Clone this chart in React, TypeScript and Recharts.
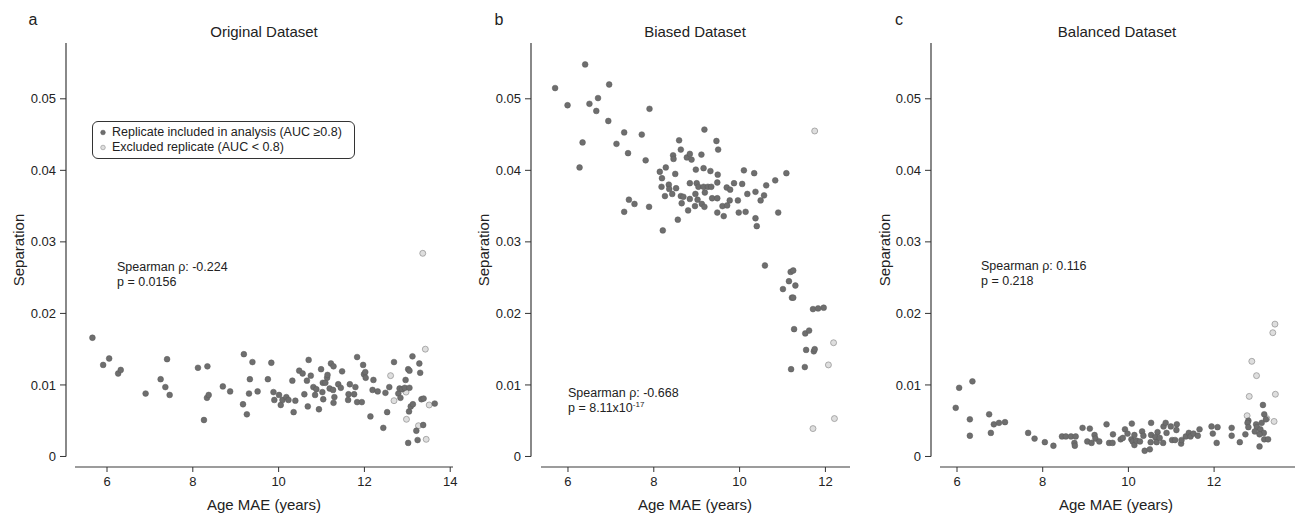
import React from "react";
import { ScatterChart, Scatter, XAxis, YAxis, ReferenceLine } from "recharts";

const FONT = '"Liberation Sans", Arial, sans-serif';
const INK = "#222";

// a — original dataset
const origInX = [5.66, 5.91, 6.05, 6.26, 6.32, 6.9, 7.25, 7.36, 7.4, 7.46, 8.12, 8.26, 8.34, 8.33, 8.37, 8.7, 8.87, 9.17, 9.19, 9.26, 9.31, 9.33, 9.39, 9.51, 9.75, 9.83, 9.88, 9.9, 10.01, 10.05, 10.09, 10.18, 10.23, 10.32, 10.35, 10.39, 10.48, 10.56, 10.6, 10.66, 10.68, 10.7, 10.75, 10.81, 10.85, 10.88, 10.94, 10.99, 11.02, 11.04, 11.03, 11.09, 11.13, 11.14, 11.19, 11.22, 11.27, 11.28, 11.3, 11.28, 11.39, 11.45, 11.48, 11.62, 11.63, 11.66, 11.76, 11.79, 11.83, 11.83, 11.94, 11.97, 11.99, 12.02, 12.03, 12.14, 12.21, 12.19, 12.31, 12.44, 12.49, 12.53, 12.58, 12.69, 12.79, 12.82, 12.84, 12.88, 12.94, 12.96, 13.02, 13.05, 13.05, 13.02, 13.04, 13.08, 13.13, 13.12, 13.21, 13.24, 13.28, 13.3, 13.33, 13.38, 13.37, 13.64];
const origInY = [0.0166, 0.0128, 0.0137, 0.0116, 0.0121, 0.0088, 0.0108, 0.0097, 0.0136, 0.0086, 0.0124, 0.0051, 0.0126, 0.0082, 0.0086, 0.0098, 0.0091, 0.0073, 0.0143, 0.0059, 0.0088, 0.0108, 0.0132, 0.0091, 0.0108, 0.0131, 0.009, 0.0079, 0.0086, 0.0072, 0.0079, 0.0083, 0.0079, 0.0106, 0.0062, 0.0078, 0.012, 0.0116, 0.0087, 0.0106, 0.007, 0.0135, 0.0113, 0.0097, 0.0086, 0.0094, 0.0066, 0.0122, 0.009, 0.008, 0.0103, 0.0103, 0.011, 0.0114, 0.0095, 0.013, 0.0093, 0.0126, 0.0083, 0.0075, 0.0101, 0.0096, 0.0119, 0.0079, 0.0087, 0.0101, 0.0087, 0.0097, 0.0139, 0.0076, 0.0076, 0.0128, 0.0115, 0.0118, 0.011, 0.0056, 0.0107, 0.0093, 0.0091, 0.004, 0.0089, 0.0062, 0.0097, 0.0132, 0.0088, 0.0095, 0.0082, 0.0094, 0.0096, 0.0107, 0.0122, 0.012, 0.0096, 0.0019, 0.0063, 0.007, 0.0073, 0.014, 0.0036, 0.0023, 0.013, 0.0117, 0.008, 0.0081, 0.0044, 0.0074];
const origOutX = [13.36, 13.42, 12.61, 12.69, 12.97, 13.51, 12.98, 13.26, 13.44];
const origOutY = [0.0284, 0.015, 0.0113, 0.0078, 0.009, 0.0072, 0.0052, 0.0043, 0.0024];

// b — biased dataset
const biasInX = [5.7, 5.99, 6.34, 6.27, 6.4, 6.5, 6.66, 6.7, 6.96, 6.94, 7.13, 7.31, 7.4, 7.31, 7.42, 7.55, 7.72, 7.81, 7.9, 7.89, 8.14, 8.19, 8.28, 8.18, 8.26, 8.35, 8.36, 8.45, 8.46, 8.5, 8.52, 8.43, 8.59, 8.63, 8.63, 8.65, 8.69, 8.56, 8.77, 8.84, 8.88, 8.84, 8.8, 8.84, 8.96, 8.98, 8.97, 9.0, 9.04, 9.02, 9.11, 9.12, 9.16, 9.18, 9.19, 9.18, 9.16, 9.26, 9.32, 9.36, 9.34, 9.46, 9.5, 9.49, 9.48, 9.48, 9.48, 9.63, 9.6, 9.7, 9.71, 9.78, 9.77, 9.87, 9.96, 9.98, 10.06, 10.1, 10.14, 10.18, 10.34, 10.37, 10.37, 10.4, 10.49, 10.57, 10.62, 10.83, 10.9, 11.09, 8.21, 10.59, 11.19, 11.25, 11.15, 11.3, 11.01, 11.22, 11.25, 11.71, 11.83, 11.96, 11.27, 11.53, 11.62, 11.55, 11.73, 11.75, 11.2, 11.52];
const biasInY = [0.0515, 0.0491, 0.0439, 0.0404, 0.0548, 0.0493, 0.0483, 0.0501, 0.052, 0.0469, 0.0437, 0.0453, 0.0424, 0.0342, 0.0359, 0.0353, 0.045, 0.0414, 0.0486, 0.0349, 0.0398, 0.0389, 0.0404, 0.0377, 0.0364, 0.038, 0.0374, 0.0421, 0.0416, 0.0395, 0.0375, 0.0367, 0.0442, 0.0429, 0.0364, 0.0354, 0.0363, 0.0331, 0.0418, 0.0423, 0.0415, 0.0382, 0.0344, 0.036, 0.035, 0.0401, 0.0367, 0.0382, 0.0377, 0.0359, 0.0422, 0.0353, 0.0403, 0.0457, 0.0369, 0.0349, 0.0377, 0.0377, 0.0399, 0.0361, 0.0377, 0.0441, 0.0429, 0.0394, 0.0383, 0.0361, 0.0341, 0.0336, 0.035, 0.0376, 0.0351, 0.0373, 0.0358, 0.0382, 0.0358, 0.0341, 0.0381, 0.04, 0.0342, 0.0367, 0.0396, 0.037, 0.0333, 0.0322, 0.0358, 0.0365, 0.0379, 0.0386, 0.0341, 0.0396, 0.0316, 0.0267, 0.0258, 0.026, 0.0245, 0.0239, 0.0234, 0.0222, 0.0222, 0.0206, 0.0207, 0.0208, 0.0178, 0.0172, 0.0176, 0.0149, 0.0147, 0.015, 0.0122, 0.0125];
const biasOutX = [11.75, 12.19, 12.07, 12.21, 11.71];
const biasOutY = [0.0455, 0.0159, 0.0128, 0.0053, 0.0039];

// c — balanced dataset
const balInX = [5.97, 6.05, 6.36, 6.3, 6.3, 6.75, 6.79, 6.86, 6.98, 7.12, 7.66, 7.81, 8.05, 8.25, 8.45, 8.54, 8.66, 8.77, 8.74, 8.75, 8.93, 9.04, 9.1, 9.14, 9.21, 9.23, 9.32, 9.49, 9.55, 9.63, 9.64, 9.82, 9.87, 9.92, 9.98, 10.08, 10.07, 10.1, 10.14, 10.14, 10.19, 10.27, 10.32, 10.35, 10.38, 10.5, 10.53, 10.53, 10.52, 10.63, 10.66, 10.68, 10.73, 10.81, 10.82, 10.87, 10.89, 10.99, 11.02, 11.12, 11.13, 11.09, 11.23, 11.24, 11.34, 11.41, 11.45, 11.52, 11.62, 11.66, 11.94, 11.97, 12.06, 12.08, 12.41, 12.41, 12.6, 12.73, 13.14, 13.17, 13.21, 12.8, 12.78, 12.98, 13.11, 12.8, 13.0, 12.95, 13.08, 13.16, 13.06, 13.17, 13.26, 13.06];
const balInY = [0.0068, 0.0096, 0.0105, 0.0052, 0.0029, 0.0059, 0.0033, 0.0045, 0.0047, 0.0048, 0.0033, 0.0025, 0.002, 0.0015, 0.0028, 0.0028, 0.0028, 0.0028, 0.0019, 0.0015, 0.004, 0.0021, 0.0039, 0.0019, 0.003, 0.0025, 0.0021, 0.0045, 0.0019, 0.0019, 0.0031, 0.0024, 0.0026, 0.0038, 0.0032, 0.0046, 0.0024, 0.0021, 0.003, 0.0016, 0.0022, 0.0021, 0.0035, 0.0029, 0.0008, 0.001, 0.003, 0.0047, 0.002, 0.0027, 0.002, 0.0034, 0.0026, 0.0019, 0.0042, 0.0047, 0.0033, 0.0042, 0.0023, 0.0037, 0.0045, 0.0023, 0.0018, 0.0023, 0.0028, 0.0033, 0.0028, 0.0032, 0.0029, 0.0038, 0.0042, 0.0032, 0.0019, 0.0041, 0.004, 0.0029, 0.002, 0.0031, 0.0072, 0.0059, 0.0052, 0.005, 0.0047, 0.0045, 0.0047, 0.0041, 0.0041, 0.0035, 0.0038, 0.0033, 0.0031, 0.0024, 0.0024, 0.0014];
const balOutX = [13.42, 13.37, 12.88, 12.99, 12.82, 13.43, 12.77, 13.4, 13.23];
const balOutY = [0.0185, 0.0173, 0.0133, 0.0113, 0.0084, 0.0087, 0.0057, 0.0049, 0.0053];

const yTicks = [0, 0.01, 0.02, 0.03, 0.04, 0.05];
const yTickLabels = ["0", "0.01", "0.02", "0.03", "0.04", "0.05"];
const xTicksA = [6, 8, 10, 12, 14];
const xTicksBC = [6, 8, 10, 12];
const yDomain = [-0.00147, 0.0578];

const zip = (xs: number[], ys: number[]) => xs.map((x, i) => ({ x, y: ys[i] }));

const IncDot = (p: any) => <circle cx={p.cx} cy={p.cy} r={2.9} fill="#6e6e6e" stroke="#5a5a5a" strokeWidth={0.5} />;
const ExcDot = (p: any) => <circle cx={p.cx} cy={p.cy} r={3} fill="#dedede" stroke="#8e8e8e" strokeWidth={0.7} />;

interface PanelProps {
  left: number;
  width: number;
  yw: number;
  right: number;
  xDomain: [number, number];
  xStart: number;
  xTicks: number[];
  inc: { x: number; y: number }[];
  exc: { x: number; y: number }[];
}

const Panel = ({ left, width, yw, right, xDomain, xStart, xTicks, inc, exc }: PanelProps) => (
  <div style={{ position: "absolute", left, top: 0 }}>
    <ScatterChart width={width} height={516} margin={{ top: 43, right, bottom: 0, left: 0 }}>
      <XAxis
        type="number"
        dataKey="x"
        domain={xDomain}
        allowDataOverflow
        ticks={xTicks}
        axisLine={false}
        tickLine={{ stroke: "#333" }}
        tickSize={5}
        tickMargin={5}
        height={49}
        tick={{ fill: INK, fontSize: 13, fontFamily: FONT }}
      />
      <YAxis
        type="number"
        dataKey="y"
        domain={yDomain}
        allowDataOverflow
        ticks={yTicks}
        tickFormatter={(v: number) => yTickLabels[yTicks.indexOf(v)] ?? ""}
        axisLine={false}
        tickLine={{ stroke: "#333" }}
        tickSize={6}
        tickMargin={4}
        width={yw}
        tick={{ fill: INK, fontSize: 13, fontFamily: FONT }}
      />
      <ReferenceLine
        segment={[{ x: xStart, y: yDomain[0] }, { x: xDomain[1], y: yDomain[0] }]}
        stroke="#3a3a3a"
        strokeWidth={1.2}
        ifOverflow="visible"
      />
      <ReferenceLine
        segment={[{ x: xDomain[0], y: 0 }, { x: xDomain[0], y: yDomain[1] }]}
        stroke="#3a3a3a"
        strokeWidth={1.2}
        ifOverflow="visible"
      />
      <Scatter data={exc} shape={ExcDot} isAnimationActive={false} name="Excluded replicate (AUC < 0.8)" />
      <Scatter data={inc} shape={IncDot} isAnimationActive={false} name="Replicate included in analysis (AUC ≥0.8)" />
    </ScatterChart>
  </div>
);

const txt = (left: number, top: number, size: number, center = false): React.CSSProperties => ({
  position: "absolute",
  left,
  top,
  fontSize: size,
  fontFamily: FONT,
  color: INK,
  whiteSpace: "nowrap",
  lineHeight: "15px",
  transform: center ? "translate(-50%, -50%)" : undefined,
});

const yLab = (cx: number): React.CSSProperties => ({
  ...txt(cx, 250, 15, false),
  transform: "translate(-50%, -50%) rotate(-90deg)",
});

const App = () => (
  <div style={{ position: "absolute", left: 0, top: 0, width: 1295, height: 516, background: "#fff", overflow: "hidden" }}>
    <Panel left={0} width={470} yw={66} right={17} xDomain={[5.044, 14.065]} xStart={5.254} xTicks={xTicksA} inc={zip(origInX, origInY)} exc={zip(origOutX, origOutY)} />
    <Panel left={470} width={400} yw={61} right={20} xDomain={[5.138, 12.573]} xStart={5.371} xTicks={xTicksBC} inc={zip(biasInX, biasInY)} exc={zip(biasOutX, biasOutY)} />
    <Panel left={870} width={425} yw={61} right={0} xDomain={[5.393, 13.888]} xStart={5.603} xTicks={xTicksBC} inc={zip(balInX, balInY)} exc={zip(balOutX, balOutY)} />

    <div style={txt(33, 19, 16, true)}>a</div>
    <div style={txt(499, 19, 16, true)}>b</div>
    <div style={txt(899, 19, 16, true)}>c</div>

    <div style={txt(264, 31, 15, true)}>Original Dataset</div>
    <div style={txt(695, 31, 15, true)}>Biased Dataset</div>
    <div style={txt(1117, 31, 15, true)}>Balanced Dataset</div>

    <div style={txt(264, 504, 15, true)}>Age MAE (years)</div>
    <div style={txt(695, 504, 15, true)}>Age MAE (years)</div>
    <div style={txt(1116, 504, 15, true)}>Age MAE (years)</div>

    <div style={yLab(18)}>Separation</div>
    <div style={yLab(483)}>Separation</div>
    <div style={yLab(884)}>Separation</div>

    <div style={txt(117, 260, 12.5)}>
      Spearman ρ: -0.224
      <br />p = 0.0156
    </div>
    <div style={txt(568, 386, 12.5)}>
      Spearman ρ: -0.668
      <br />p = 8.11x10
      <span style={{ fontSize: 8, position: "relative", top: -5 }}>-17</span>
    </div>
    <div style={txt(981, 258.5, 12.5)}>
      Spearman ρ: 0.116
      <br />p = 0.218
    </div>

    <div
      style={{
        position: "absolute",
        left: 92,
        top: 121,
        width: 254,
        border: "1px solid #333",
        borderRadius: 6,
        padding: "3px 0 3px 7px",
        fontFamily: FONT,
        fontSize: 12.5,
        color: INK,
        lineHeight: "15px",
        whiteSpace: "nowrap",
        background: "#fff",
      }}
    >
      {[
        { label: "Replicate included in analysis (AUC ≥0.8)", fill: "#6e6e6e", stroke: "#5a5a5a" },
        { label: "Excluded replicate (AUC < 0.8)", fill: "#dedede", stroke: "#8e8e8e" },
      ].map((it) => (
        <div key={it.label} style={{ display: "flex", alignItems: "center" }}>
          <svg width={6} height={15} style={{ marginRight: 6 }}>
            <circle cx={3} cy={7.5} r={2.3} fill={it.fill} stroke={it.stroke} strokeWidth={0.6} />
          </svg>
          {it.label}
        </div>
      ))}
    </div>
  </div>
);

export default App;
